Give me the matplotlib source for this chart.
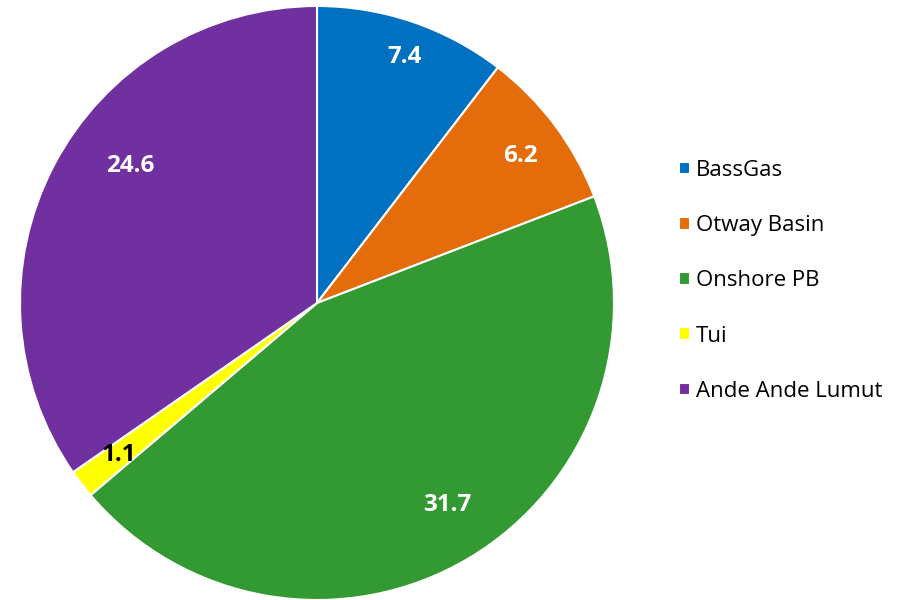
import numpy as np
import matplotlib.pyplot as plt

# Data
names = ["BassGas", "Otway Basin", "Onshore PB", "Tui", "Ande Ande Lumut"]
values = [7.4, 6.2, 31.7, 1.1, 24.6]
colors = ["#0070C0", "#E46C0A", "#339933", "#FFFF00", "#7030A0"]
label_colors = ["white", "white", "white", "black", "white"]

# label placement (radius fraction, angle tweak in degrees)
label_r = [0.88, 0.845, 0.81, 0.84, 0.78]
label_dang = [-0.8, -0.9, 2.0, 0.0, -8.7]

plt.rcParams['font.family'] = ['Open Sans', 'DejaVu Sans']

fig = plt.figure(figsize=(9.06, 6), dpi=100)
ax = fig.add_axes([20 / 906, 0, 594 / 906, 594 / 600])

wedges, _ = ax.pie(values, colors=colors, startangle=90, counterclock=False,
                   wedgeprops=dict(edgecolor='white', linewidth=1.5))
ax.set_xlim(-1, 1)
ax.set_ylim(-1, 1)
ax.set_aspect('equal')

for w, v, c, r, da in zip(wedges, values, label_colors, label_r, label_dang):
    mid = np.deg2rad((w.theta1 + w.theta2) / 2 + da)
    ax.text(r * np.cos(mid), r * np.sin(mid), f"{v:.1f}", ha='center', va='center',
            fontsize=17.5, fontweight='bold', color=c)

fig.legend(wedges, names, loc='upper left', bbox_to_anchor=(679 / 906, 1 - 160 / 600),
           frameon=False, fontsize=16, handlelength=0.5, handleheight=0.5,
           handletextpad=0.25, labelspacing=1.54, borderpad=0, borderaxespad=0)

fig.savefig("out.png", dpi=100)
